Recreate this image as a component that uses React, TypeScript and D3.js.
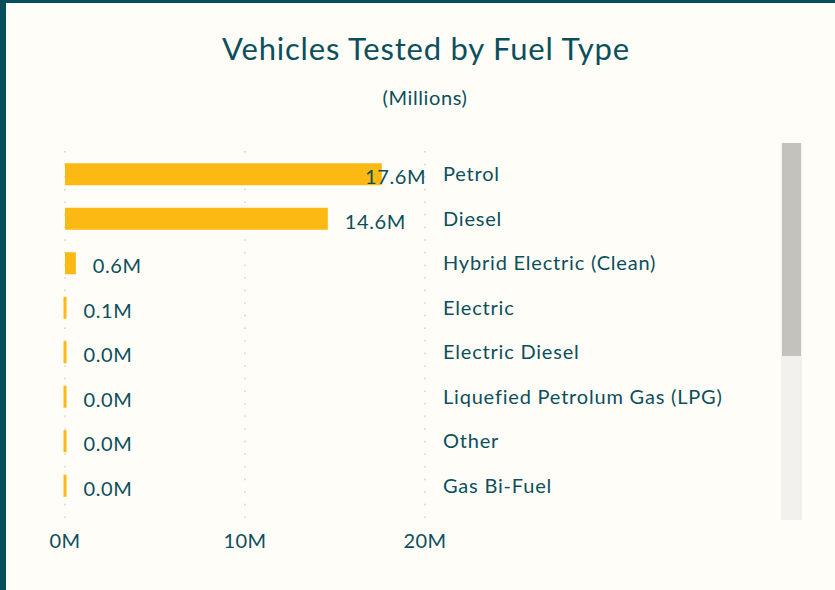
import React from "react";
import * as d3 from "d3";

const categories = [
  "Petrol",
  "Diesel",
  "Hybrid Electric (Clean)",
  "Electric",
  "Electric Diesel",
  "Liquefied Petrolum Gas (LPG)",
  "Other",
  "Gas Bi-Fuel",
];
const values = [17.6, 14.6, 0.6, 0.1, 0.02, 0.01, 0.01, 0.01];
const xTicks = [0, 10, 20];

const W = 835;
const H = 590;
const FONT = "Lato, 'Open Sans', sans-serif";
const TEXT = "#0B4F5C";
const BAR = "#FDB913";
const noLig = { fontVariantLigatures: "none" } as React.CSSProperties;

export default function App() {
  const x = d3.scaleLinear().domain([0, 20]).range([65, 425]);
  const y = d3.scaleBand().domain(categories).range([152, 508]).paddingInner(0.5).paddingOuter(0.25);
  const bh = 22;

  return (
    <div style={{ position: "fixed", left: 0, top: 0 }}>
      <svg width={W} height={H} style={{ display: "block" }}>
        <rect x={0} y={0} width={W} height={H} fill="#FFFDF7" />
        <rect x={0} y={0} width={W} height={3} fill="#064E5A" />
        <rect x={0} y={0} width={6} height={H} fill="#064E5A" />
        <text x={426} y={60} textAnchor="middle" fontFamily={FONT} fontSize={31} letterSpacing={0.8} fill={TEXT} style={noLig}>
          Vehicles Tested by Fuel Type
        </text>
        <text x={425} y={105} textAnchor="middle" fontFamily={FONT} fontSize={20} letterSpacing={0.6} fill={TEXT} style={noLig}>
          (Millions)
        </text>
        {xTicks.map((t) => (
          <g key={t}>
            <line
              x1={x(t)}
              x2={x(t)}
              y1={151}
              y2={520}
              stroke="#D8D6D1"
              strokeWidth={1.6}
              strokeDasharray="1.6,11"
            />
            <text x={x(t)} y={548} textAnchor="middle" fontFamily={FONT} fontSize={20} letterSpacing={0.4} fill={TEXT}>
              {t}M
            </text>
          </g>
        ))}
        {categories.map((c, i) => {
          const v = values[i];
          const cy = (y(c) as number) + y.bandwidth() / 2;
          const w = Math.max(3, x(v) - x(0));
          const x0 = w === 3 ? x(0) - 1.5 : x(0);
          const label = v.toFixed(1) + "M";
          let lx = x0 + w + 17;
          const lw = 59;
          if (lx + lw > 424) lx = 424 - lw;
          return (
            <g key={c}>
              <rect x={x0} y={cy - bh / 2} width={w} height={bh} fill={BAR} />
              <text x={lx} y={cy + 10} fontFamily={FONT} fontSize={20} letterSpacing={0.6} fill={TEXT} style={noLig}>
                {label}
              </text>
              <text x={443} y={cy + 7} fontFamily={FONT} fontSize={20} letterSpacing={0.8} fill={TEXT} style={noLig}>
                {c}
              </text>
            </g>
          );
        })}
        <rect x={781} y={143} width={21} height={377} fill="#F2F1EE" />
        <rect x={782} y={143} width={19} height={213} fill="#C4C2BD" />
      </svg>
    </div>
  );
}
